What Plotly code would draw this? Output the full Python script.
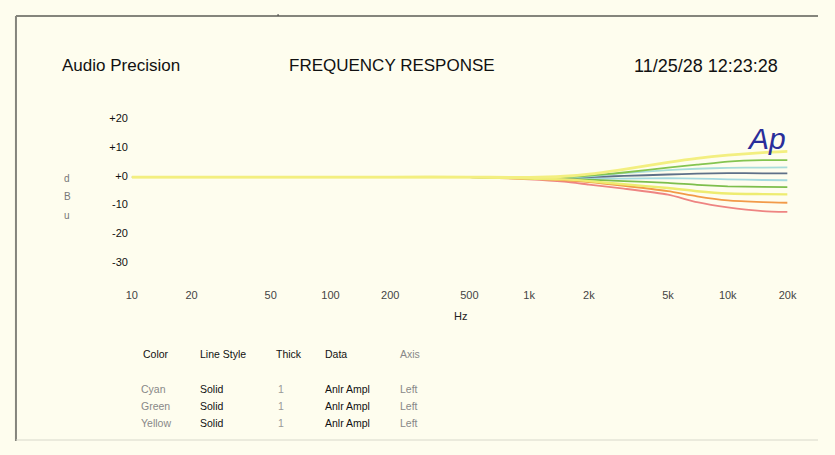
import math
import plotly.graph_objects as go

PAGE_W, PAGE_H = 835, 455
BODY_MARGIN = 8  # default browser body margin around the figure
W, H = PAGE_W - 2 * BODY_MARGIN, PAGE_H - 2 * BODY_MARGIN

# ---- data ----
freq_hz = [10, 20, 50, 100, 200, 500, 1000, 1500, 2000, 3000, 5000, 7000, 10000, 15000, 20000]

yellow_hi = [-0.5, -0.5, -0.5, -0.5, -0.5, -0.5, -0.6, -0.2, 0.5, 2.2, 4.6, 6.0, 7.1, 8.0, 8.4]
green_hi = [-0.5, -0.5, -0.5, -0.5, -0.5, -0.5, -0.7, -0.5, 0.0, 1.1, 2.8, 3.8, 4.9, 5.4, 5.4]
cyan_hi = [-0.5, -0.5, -0.5, -0.5, -0.5, -0.5, -0.7, -0.6, -0.2, 0.9, 1.9, 2.4, 2.7, 2.8, 2.9]
slate_mid = [-0.5, -0.5, -0.5, -0.5, -0.5, -0.5, -0.8, -0.7, -0.5, -0.1, 0.4, 0.7, 0.9, 0.8, 0.8]
cyan_lo = [-0.5, -0.5, -0.5, -0.5, -0.5, -0.5, -0.8, -0.9, -1.0, -1.0, -0.9, -1.0, -1.3, -1.5, -1.6]
green_lo = [-0.5, -0.5, -0.5, -0.5, -0.5, -0.5, -0.9, -1.1, -1.4, -1.9, -2.5, -3.2, -3.7, -3.9, -4.0]
yellow_lo = [-0.5, -0.5, -0.5, -0.5, -0.5, -0.5, -1.0, -1.3, -1.9, -3.0, -4.3, -5.4, -6.2, -6.4, -6.5]
orange_lo = [-0.5, -0.5, -0.5, -0.5, -0.5, -0.5, -1.1, -1.6, -2.2, -3.5, -5.4, -7.2, -8.6, -9.2, -9.4]
red_lo = [-0.5, -0.5, -0.5, -0.5, -0.5, -0.5, -1.3, -2.1, -3.1, -4.5, -6.6, -9.2, -11.0, -12.3, -12.6]

x_tick_vals = [10, 20, 50, 100, 200, 500, 1000, 2000, 5000, 10000, 20000]
x_tick_text = ["10", "20", "50", "100", "200", "500", "1k", "2k", "5k", "10k", "20k"]
y_tick_vals = [20, 10, 0, -10, -20, -30]
y_tick_text = ["+20", "+10", "+0", "-10", "-20", "-30"]

table_header = ["Color", "Line Style", "Thick", "Data", "Axis"]
table_color = ["Cyan", "Green", "Yellow"]
table_style = ["Solid", "Solid", "Solid"]
table_thick = ["1", "1", "1"]
table_data = ["Anlr Ampl", "Anlr Ampl", "Anlr Ampl"]
table_axis = ["Left", "Left", "Left"]

# ---- styling ----
BG = "#FEFDEE"
FONT = "Liberation Sans, Arial, sans-serif"

def px(x):
    # page pixel -> paper fraction
    return (x - BODY_MARGIN) / W

def py(y):
    return 1 - (y - BODY_MARGIN) / H

series = [
    (red_lo, "#EE8482", 1.8),
    (orange_lo, "#F29A48", 1.8),
    (cyan_lo, "#A4DAE0", 1.8),
    (green_lo, "#7DBE4C", 1.8),
    (slate_mid, "#5E7088", 1.8),
    (cyan_hi, "#A8DCDA", 1.8),
    (green_hi, "#84C450", 1.8),
    (yellow_lo, "#EEEC70", 2.4),
    (yellow_hi, "#F3EF80", 2.8),
]

fig = go.Figure()
for vals, col, w in series:
    fig.add_trace(go.Scatter(
        x=freq_hz, y=vals, mode="lines",
        line=dict(color=col, width=w, shape="spline", smoothing=0.6),
        showlegend=False, hoverinfo="skip",
    ))

fig.update_layout(
    width=W, height=H,
    margin=dict(l=0, r=0, t=0, b=0),
    paper_bgcolor=BG, plot_bgcolor=BG,
    showlegend=False,
    font=dict(family=FONT, color="#222"),
    xaxis=dict(
        type="log", range=[1, math.log10(20000)],
        domain=[px(128), px(796)],
        anchor="free", position=py(289),
        tickvals=x_tick_vals, ticktext=x_tick_text,
        tickfont=dict(size=11, color="#444"),
        showgrid=False, zeroline=False, showline=False, ticks="",
    ),
    yaxis=dict(
        range=[-30, 20],
        domain=[py(263), py(115)],
        anchor="free", position=px(124),
        tickvals=y_tick_vals, ticktext=y_tick_text,
        tickfont=dict(size=11, color="#111"),
        showgrid=False, zeroline=False, showline=False, ticks="",
    ),
)

ann = []
def text(x, y, s, size=10.5, color="#111", xanchor="left", **kw):
    ann.append(dict(x=px(x), y=py(y), xref="paper", yref="paper", text=s,
                    showarrow=False, xanchor=xanchor, yanchor="middle",
                    font=dict(size=size, color=color, family=FONT), **kw))

# header
text(55, 61, "Audio Precision", size=17, color="#111")
text(393, 61, "FREQUENCY RESPONSE", size=17, color="#111", xanchor="center")
text(788, 61, "11/25/28 12:23:28", size=18, color="#111", xanchor="right")

# logo
text(775, 136, "<i>Ap</i>", size=30, color="#2A2E9A", xanchor="center")

# y label letters
for letter, yy in zip(["d", "B", "u"], [177, 196, 215]):
    text(62, yy, letter, size=10, color="#777", xanchor="center")

# x unit
text(463, 318, "Hz", size=11, color="#222", xanchor="center")

# table
col_x = [137, 195, 273, 323, 399]
head_col = ["#111", "#111", "#111", "#111", "#888"]
for h, cx, cc in zip(table_header, col_x, head_col):
    text(cx, 358, h, size=10.5, color=cc)
row_y = [394, 411, 428]
for i, ry in enumerate(row_y):
    text(135, ry, table_color[i], color="#888")
    text(195, ry, table_style[i], color="#111")
    text(275, ry, table_thick[i], color="#999")
    text(323, ry, table_data[i], color="#111")
    text(399, ry, table_axis[i], color="#888")

fig.update_layout(annotations=ann)

# page frame lines
shapes = [
    dict(type="line", xref="paper", yref="paper", x0=px(10), x1=1, y0=py(10), y1=py(10),
         line=dict(color="#85857c", width=2)),
    dict(type="line", xref="paper", yref="paper", x0=px(10), x1=px(10), y0=py(10), y1=0,
         line=dict(color="#85857c", width=2)),
    dict(type="line", xref="paper", yref="paper", x0=px(277), x1=px(277), y0=1, y1=py(10),
         line=dict(color="#444", width=1)),
    dict(type="line", xref="paper", yref="paper", x0=px(10), x1=1, y0=py(446), y1=py(446),
         line=dict(color="#d8d8cc", width=1)),
]
fig.update_layout(shapes=shapes)

fig.write_html(
    "out.html",
    config={"displayModeBar": False, "staticPlot": True},
    post_script=("document.body.style.background='%s';"
                 "document.documentElement.style.background='%s';") % (BG, BG),
)
